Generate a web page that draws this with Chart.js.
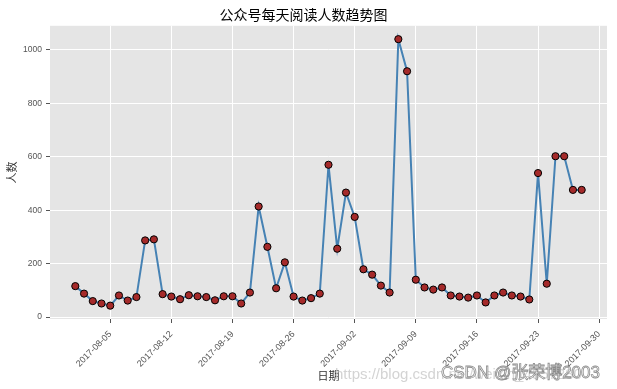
<!DOCTYPE html>
<html><head><meta charset="utf-8">
<script src="https://cdn.jsdelivr.net/npm/chart.js@4/dist/chart.umd.min.js"></script>
<style>html,body{margin:0;padding:0;background:#fff;}</style>
</head><body>
<canvas id="c" width="617" height="389"></canvas>
<script>
const dates = [
  "2017-08-01","2017-08-02","2017-08-03","2017-08-04","2017-08-05","2017-08-06","2017-08-07","2017-08-08","2017-08-09","2017-08-10",
  "2017-08-11","2017-08-12","2017-08-13","2017-08-14","2017-08-15","2017-08-16","2017-08-17","2017-08-18","2017-08-19","2017-08-20",
  "2017-08-21","2017-08-22","2017-08-23","2017-08-24","2017-08-25","2017-08-26","2017-08-27","2017-08-28","2017-08-29","2017-08-30",
  "2017-08-31","2017-09-01","2017-09-02","2017-09-03","2017-09-04","2017-09-05","2017-09-06","2017-09-07","2017-09-08","2017-09-09",
  "2017-09-10","2017-09-11","2017-09-12","2017-09-13","2017-09-14","2017-09-15","2017-09-16","2017-09-17","2017-09-18","2017-09-19",
  "2017-09-20","2017-09-21","2017-09-22","2017-09-23","2017-09-24","2017-09-25","2017-09-26","2017-09-27","2017-09-28"
];
const readers = [
  116, 88, 60, 51, 43, 81, 62, 75, 287, 291,
  86, 77, 67, 82, 78, 75, 63, 78, 78, 51,
  92, 414, 263, 108, 205, 77, 62, 71, 88, 570,
  256, 466, 375, 179, 159, 118, 92, 1040, 920, 140,
  111, 103, 111, 81, 77, 73, 81, 55, 81, 92,
  81, 77, 66, 539, 125, 602, 602, 476, 476
];
const xTickLabels = ["2017-08-05","2017-08-12","2017-08-19","2017-08-26","2017-09-02","2017-09-09","2017-09-16","2017-09-23","2017-09-30"];
const yTickValues = [0, 200, 400, 600, 800, 1000];

const DAY = 86400000;
const t0 = Date.parse(dates[0] + "T00:00:00Z");
const dayOf = s => Math.round((Date.parse(s + "T00:00:00Z") - t0) / DAY);
const points = dates.map((d, i) => ({x: dayOf(d), y: readers[i]}));
const xTickPos = xTickLabels.map(dayOf);
const labelAt = {};
xTickLabels.forEach((l, i) => labelAt[xTickPos[i]] = l);

const bgPlugin = {
  id: 'bg',
  beforeDraw(chart) {
    const {ctx, chartArea: a} = chart;
    ctx.save();
    ctx.fillStyle = '#E5E5E5';
    ctx.fillRect(a.left, a.top, a.right - a.left, a.bottom - a.top);
    ctx.restore();
  }
};
const wmPlugin = {
  id: 'wm',
  afterDraw(chart) {
    const ctx = chart.ctx;
    ctx.save();
    ctx.textBaseline = 'alphabetic';
    ctx.font = '15px "Liberation Sans", Arial, sans-serif';
    ctx.fillStyle = 'rgba(200,200,200,0.8)';
    ctx.fillText('https://blog.csdn.net/weixin_4357280', 335, 379);
    ctx.font = '17px "Liberation Sans", "Noto Sans CJK SC", sans-serif';
    ctx.lineWidth = 0.8;
    ctx.strokeStyle = 'rgba(120,120,120,0.85)';
    ctx.fillStyle = '#FFFFFF';
    ctx.fillText('CSDN @张荣博2003', 441, 378);
    ctx.strokeText('CSDN @张荣博2003', 441, 378);
    ctx.restore();
  }
};

new Chart(document.getElementById('c'), {
  type: 'line',
  data: {
    datasets: [{
      data: points,
      borderColor: '#4682B4',
      borderWidth: 2,
      tension: 0,
      pointRadius: 3.6,
      pointHoverRadius: 3.6,
      pointBackgroundColor: '#A52A2A',
      pointBorderColor: '#000000',
      pointBorderWidth: 1
    }]
  },
  options: {
    responsive: false,
    animation: false,
    events: [],
    layout: {padding: {top: 0, right: 10, left: 0, bottom: 0}},
    plugins: {
      legend: {display: false},
      tooltip: {enabled: false},
      title: {
        display: true,
        text: '公众号每天阅读人数趋势图',
        color: '#000',
        font: {size: 14, family: '"Noto Sans CJK SC", sans-serif', weight: 'normal'},
        padding: {top: 6, bottom: 3}
      }
    },
    scales: {
      x: {
        type: 'linear',
        min: -2.9,
        max: 60.9,
        afterBuildTicks(s) { s.ticks = xTickPos.map(v => ({value: v})); },
        afterFit(s) { s.height = 70; s.paddingLeft = 0; s.paddingRight = 0; },
        ticks: {
          autoSkip: false,
          minRotation: 45,
          maxRotation: 45,
          padding: 6,
          color: '#555',
          font: {size: 9, family: '"Liberation Sans", Arial, sans-serif'},
          callback: v => labelAt[v] || ''
        },
        grid: {color: '#FFFFFF', lineWidth: 1, tickColor: '#555', tickLength: 4, drawTicks: true},
        border: {display: false},
        title: {
          display: true, text: '日期', color: '#333',
          font: {size: 11, family: '"Noto Sans CJK SC", sans-serif'},
          padding: {top: 7, bottom: 7}
        }
      },
      y: {
        type: 'linear',
        min: -7,
        max: 1090,
        afterBuildTicks(s) { s.ticks = yTickValues.map(v => ({value: v})); },
        afterFit(s) { s.width = 50; s.paddingTop = 0; s.paddingBottom = 0; },
        ticks: {
          padding: 4,
          color: '#555',
          font: {size: 8.5, family: '"Liberation Sans", Arial, sans-serif'},
          callback: v => String(v)
        },
        grid: {color: '#FFFFFF', lineWidth: 1, tickColor: '#555', tickLength: 4, drawTicks: true},
        border: {display: false},
        title: {
          display: true, text: '人数', color: '#333',
          font: {size: 11, family: '"Noto Sans CJK SC", sans-serif'},
          padding: {top: 5, bottom: 5}
        }
      }
    }
  },
  plugins: [bgPlugin, wmPlugin]
});
</script>
</body></html>
